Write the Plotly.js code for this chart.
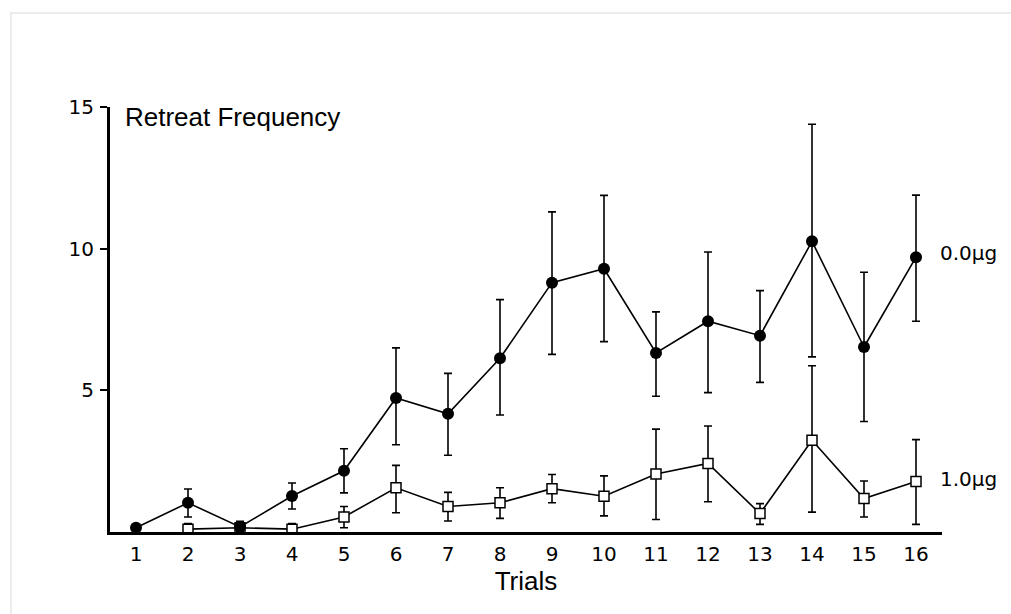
<!DOCTYPE html>
<html>
<head>
<meta charset="utf-8">
<script src="https://cdn.plot.ly/plotly-3.0.1.min.js"></script>
<style>
  html, body { margin: 0; padding: 0; background: #fff; overflow: hidden; }
  #wrap { position: relative; width: 1011px; height: 614px; overflow: hidden; }
  #frame { position: absolute; left: 10px; top: 12px; width: 1011px; height: 614px;
           border-left: 2px solid #ececec; border-top: 2px solid #ececec; }
  #chart { position: absolute; left: 0; top: 0; width: 1011px; height: 614px; }
</style>
</head>
<body>
<div id="wrap"><div id="frame"></div><div id="chart"></div></div>
<script>
// Trials
const trials = [1,2,3,4,5,6,7,8,9,10,11,12,13,14,15,16];
const tickLabels = ["1","2","3","4","5","6","7","8","9","10","11","12","13","14","15","16"];

// 0.0 µg group (filled circles): means and error bar ends
const mean00   = [0.15, 1.03, 0.18, 1.27, 2.16, 4.73, 4.17, 6.13, 8.80, 9.29, 6.32, 7.44, 6.93, 10.26, 6.53, 9.70];
const upper00  = [0.15, 1.52, 0.38, 1.73, 2.94, 6.50, 5.60, 8.20, 11.30, 11.88, 7.77, 9.88, 8.52, 14.39, 9.17, 11.89];
const lower00  = [0.15, 0.53, 0.05, 0.81, 1.38, 3.08, 2.71, 4.13, 6.27, 6.72, 4.79, 4.92, 5.28, 6.18, 3.90, 7.44];

// 1.0 µg group (open squares): means and error bar ends
const mean10   = [null, 0.10, 0.15, 0.10, 0.53, 1.56, 0.90, 1.03, 1.53, 1.26, 2.05, 2.42, 0.65, 3.24, 1.18, 1.78];
const upper10  = [null, 0.30, 0.30, 0.30, 0.90, 2.35, 1.40, 1.56, 2.03, 1.98, 3.63, 3.74, 1.00, 5.87, 1.80, 3.26];
const lower10  = [null, 0.00, 0.05, 0.00, 0.15, 0.68, 0.39, 0.48, 1.03, 0.57, 0.44, 1.07, 0.27, 0.70, 0.53, 0.27];

const seriesNames = ["0.0\u00b5g", "1.0\u00b5g"];
const yTitle = "Retreat Frequency";
const xTitle = "Trials";

function plus(m, u) { return m.map((v, i) => v == null ? null : u[i] - v); }
function minus(m, l) { return m.map((v, i) => v == null ? null : v - l[i]); }

const lineStyle = { color: "#000", width: 1.6 };
const errStyle = (m, u, l) => ({
  type: "data", symmetric: false,
  array: plus(m, u), arrayminus: minus(m, l),
  color: "#000", thickness: 1.6, width: 4
});

const traces = [
  {
    x: trials, y: mean10, type: "scatter", mode: "lines+markers", name: seriesNames[1],
    line: lineStyle,
    marker: { symbol: "square", size: 10, color: "#fff", line: { color: "#000", width: 1.5 } },
    error_y: errStyle(mean10, upper10, lower10),
    cliponaxis: false
  },
  {
    x: trials, y: mean00, type: "scatter", mode: "lines+markers", name: seriesNames[0],
    line: lineStyle,
    marker: { symbol: "circle", size: 12, color: "#000" },
    error_y: errStyle(mean00, upper00, lower00),
    cliponaxis: false
  }
];

const tickFont = { family: "DejaVu Sans, Verdana, sans-serif", size: 20, color: "#000" };
const titleFont = { family: "Liberation Sans, Arial, Helvetica, sans-serif", size: 26, color: "#000" };

const layout = {
  width: 1011, height: 614,
  margin: { l: 110, r: 69, t: 107, b: 82 },
  paper_bgcolor: "rgba(0,0,0,0)",
  plot_bgcolor: "rgba(0,0,0,0)",
  showlegend: false,
  xaxis: {
    range: [0.5, 16.5],
    tickmode: "array", tickvals: trials, ticktext: tickLabels,
    ticks: "", showgrid: false, zeroline: false,
    showline: true, linecolor: "#000", linewidth: 3,
    tickfont: tickFont, ticklabelstandoff: 2,
    title: { text: xTitle, font: titleFont, standoff: 6 }
  },
  yaxis: {
    range: [0, 15],
    tickmode: "array", tickvals: [5, 10, 15], ticktext: ["5", "10", "15"],
    ticks: "outside", ticklen: 7, tickwidth: 2, tickcolor: "#000",
    showgrid: false, zeroline: false,
    showline: true, linecolor: "#000", linewidth: 3,
    tickfont: tickFont, ticklabelstandoff: 2
  },
  annotations: [
    { xref: "paper", yref: "y", x: 0.016, y: 15, xanchor: "left", yanchor: "middle",
      text: yTitle, showarrow: false, font: titleFont, yshift: -10 },
    { xref: "paper", yref: "y", x: 1.0, y: mean00[15], xanchor: "left", yanchor: "middle",
      text: seriesNames[0], showarrow: false, xshift: -4, yshift: 4, font: tickFont },
    { xref: "paper", yref: "y", x: 1.0, y: mean10[15], xanchor: "left", yanchor: "middle",
      text: seriesNames[1], showarrow: false, xshift: -4, yshift: 3, font: tickFont }
  ]
};

Plotly.newPlot("chart", traces, layout, { staticPlot: true, displayModeBar: false });
</script>
</body>
</html>
